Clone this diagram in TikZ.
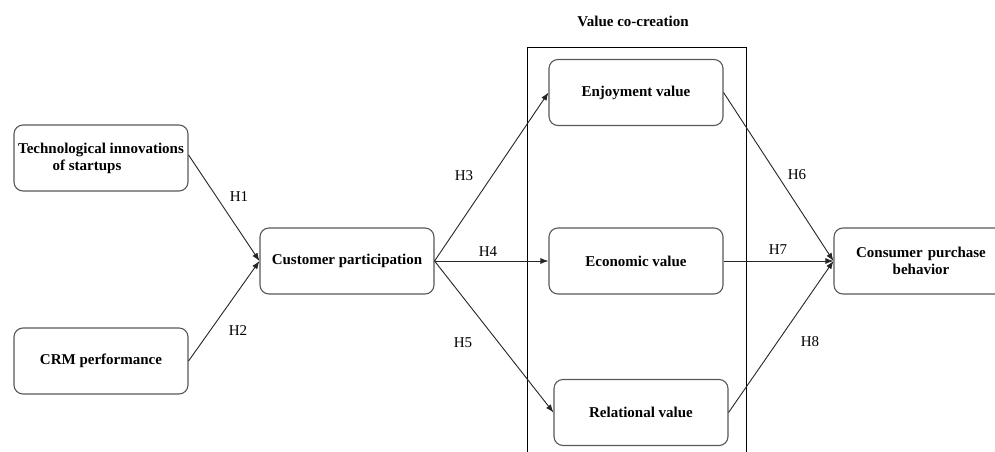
\documentclass[tikz,border=0pt]{standalone}
\usepackage{fontspec}
\setmainfont{Liberation Serif}
\usetikzlibrary{arrows.meta}
\begin{document}
\begin{tikzpicture}[x=1pt,y=-1pt,
  box/.style={draw=black!65,line width=1.1pt,rounded corners=9pt,minimum width=174pt,minimum height=66pt,inner sep=0pt,font=\fontsize{15}{17}\selectfont\bfseries},
  conn/.style={draw=black!85,line width=0.9pt,-{Latex[length=8pt,width=6pt]}},
  hlab/.style={font=\fontsize{15}{17}\selectfont,inner sep=0pt}]
\useasboundingbox (0,0) rectangle (995,452);
\clip (0,0) rectangle (995,452);
\fill[white] (0,0) rectangle (995,452);
\node[draw=black,line width=0.9pt,minimum width=219pt,minimum height=440pt,inner sep=0pt] (vcc) at (636.5,267) {};
\node[font=\fontsize{15}{17}\selectfont\bfseries] (vcctitle) at (633,21) {Value co-creation};
\node[box,align=left] (tech) at (101,158) {Technological innovations\\\hspace*{2.3em}of startups};
\node[box] (crm) at (101,361) {CRM performance};
\node[box] (cp) at (347,261) {Customer participation};
\node[box] (enj) at (636,92.5) {Enjoyment value};
\node[box] (eco) at (636,261) {Economic value};
\node[box] (rel) at (641,412.5) {Relational value};
\node[box,align=center,text width=174pt] (cons) at (921,261) {Consumer purchase\\behavior};
\draw[conn] ([yshift=3pt]tech.east) -- (cp.west);
\draw[conn] (crm.east) -- (cp.west);
\draw[conn] (cp.east) -- (enj.west);
\draw[conn] (cp.east) -- (eco.west);
\draw[conn] (cp.east) -- (rel.west);
\draw[conn] (enj.east) -- (cons.west);
\draw[conn] (eco.east) -- (cons.west);
\draw[conn] (rel.east) -- (cons.west);
\node[hlab] (h1) at (239,197) {H1};
\node[hlab] (h2) at (238,331) {H2};
\node[hlab] (h3) at (464,176) {H3};
\node[hlab] (h4) at (488,252) {H4};
\node[hlab] (h5) at (463,343) {H5};
\node[hlab] (h6) at (797,175) {H6};
\node[hlab] (h7) at (778,250) {H7};
\node[hlab] (h8) at (810,342) {H8};
\end{tikzpicture}
\end{document}
